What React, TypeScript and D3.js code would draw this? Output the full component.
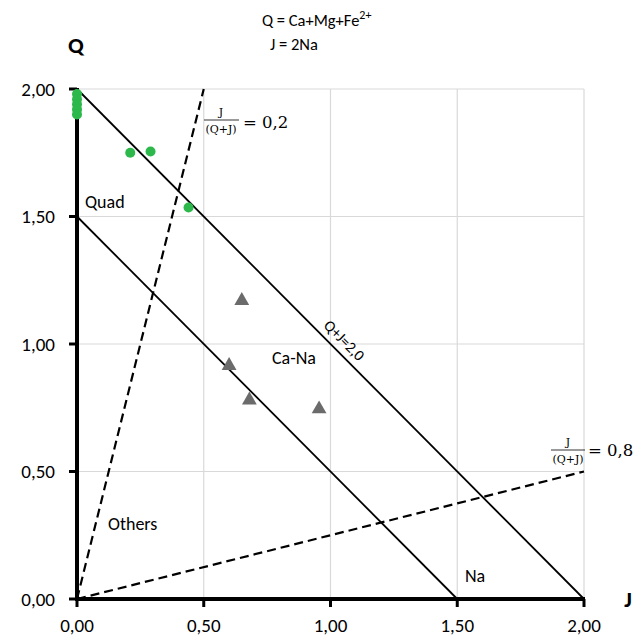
import React from "react";
import * as d3 from "d3";

const ticks = [0, 0.5, 1, 1.5, 2];
const tickLabels = ["0,00", "0,50", "1,00", "1,50", "2,00"];

// green circles (J, Q)
const quadJ = [0, 0, 0, 0, 0, 0.21, 0.29, 0.44];
const quadQ = [1.98, 1.96, 1.94, 1.92, 1.9, 1.75, 1.755, 1.535];

// grey triangles (J, Q)
const caNaJ = [0.65, 0.6, 0.68, 0.955];
const caNaQ = [1.17, 0.915, 0.78, 0.745];

// boundary lines [J1, Q1, J2, Q2]
const solidLines = [
  [0, 2, 2, 0],
  [0, 1.5, 1.5, 0],
];
const dashedLines = [
  [0, 0, 0.5, 2],
  [0, 0, 2, 0.5],
];

const W = 634;
const H = 641;

export default function App() {
  const x = d3.scaleLinear().domain([0, 2]).range([77, 584]);
  const y = d3.scaleLinear().domain([0, 2]).range([599, 89]);
  const tri = d3.symbol().type(d3.symbolTriangle).size(95)();
  const font = "Calibri, Carlito, 'Open Sans', sans-serif";
  const mathFont = "'DejaVu Serif', 'Liberation Serif', serif";

  return (
    <svg width={W} height={H} style={{ position: "absolute", left: 0, top: 0, background: "#fff" }}>
      {/* grid */}
      {ticks.slice(1).map((t) => (
        <g key={"g" + t}>
          <line x1={x(t)} x2={x(t)} y1={y(0)} y2={y(2)} stroke="#d9d9d9" strokeWidth={1.2} />
          <line x1={x(0)} x2={x(2)} y1={y(t)} y2={y(t)} stroke="#d9d9d9" strokeWidth={1.2} />
        </g>
      ))}

      {/* boundary lines */}
      {solidLines.map((l, i) => (
        <line key={"s" + i} x1={x(l[0])} y1={y(l[1])} x2={x(l[2])} y2={y(l[3])} stroke="#000" strokeWidth={1.8} />
      ))}
      {dashedLines.map((l, i) => (
        <line key={"d" + i} x1={x(l[0])} y1={y(l[1])} x2={x(l[2])} y2={y(l[3])} stroke="#000" strokeWidth={2.2} strokeDasharray="9,5" />
      ))}

      {/* axes */}
      <line x1={x(0)} x2={x(0)} y1={y(0) + 2} y2={y(2) - 1} stroke="#000" strokeWidth={4} />
      <line x1={x(0) - 2} x2={x(2) + 1} y1={y(0)} y2={y(0)} stroke="#000" strokeWidth={4} />
      {ticks.map((t, i) => (
        <g key={"t" + t}>
          <line x1={x(t)} x2={x(t)} y1={y(0)} y2={y(0) + 8} stroke="#000" strokeWidth={3} />
          <line x1={x(0) - 8} x2={x(0)} y1={y(t)} y2={y(t)} stroke="#000" strokeWidth={3} />
          <text x={x(t)} y={y(0) + 33} textAnchor="middle" fontFamily={font} fontSize={19} fill="#000">
            {tickLabels[i]}
          </text>
          <text x={x(0) - 22} y={y(t)} dy="0.35em" textAnchor="end" fontFamily={font} fontSize={19} fill="#000">
            {tickLabels[i]}
          </text>
        </g>
      ))}

      {/* points */}
      {quadJ.map((j, i) => (
        <circle key={"c" + i} cx={x(j)} cy={y(quadQ[i])} r={5} fill="#2cb84a" />
      ))}
      {caNaJ.map((j, i) => (
        <path key={"tr" + i} d={tri} transform={`translate(${x(j)},${y(caNaQ[i])})`} fill="#6b6b6b" />
      ))}

      {/* axis titles */}
      <text x={x(0) - 1} y={53} textAnchor="middle" fontFamily={font} fontSize={23} fontWeight="bold">Q</text>
      <text x={628} y={y(0) + 8} textAnchor="middle" fontFamily={font} fontSize={23} fontWeight="bold">J</text>

      {/* definitions */}
      <text x={262} y={26} fontFamily={font} fontSize={16.5}>
        Q = Ca+Mg+Fe<tspan dy={-7} fontSize={12}>2+</tspan>
      </text>
      <text x={270} y={50} fontFamily={font} fontSize={16.5}>J = 2Na</text>

      {/* region labels */}
      <text x={85} y={208} fontFamily={font} fontSize={18}>Quad</text>
      <text x={272} y={364} fontFamily={font} fontSize={18}>Ca-Na</text>
      <text x={108} y={530} fontFamily={font} fontSize={18}>Others</text>
      <text x={465} y={582} fontFamily={font} fontSize={18}>Na</text>
      <text
        transform={`translate(${x(1.02) + 5},${y(0.98) - 5}) rotate(45)`}
        textAnchor="middle"
        fontFamily={font}
        fontSize={15.5}
      >
        Q+J=2,0
      </text>

      {/* ratio formulas */}
      <g fontFamily={mathFont} fill="#000">
        <text x={221} y={116} textAnchor="middle" fontSize={11}>J</text>
        <line x1={204} x2={239} y1={120} y2={120} stroke="#000" strokeWidth={0.8} />
        <text x={221} y={133} textAnchor="middle" fontSize={11}>(Q+J)</text>
        <text x={243} y={128} fontSize={16.5}>= 0,2</text>

        <text x={568} y={446} textAnchor="middle" fontSize={11}>J</text>
        <line x1={551} x2={585} y1={450} y2={450} stroke="#000" strokeWidth={0.8} />
        <text x={568} y={463} textAnchor="middle" fontSize={11}>(Q+J)</text>
        <text x={588} y={456} fontSize={16.5}>= 0,8</text>
      </g>
    </svg>
  );
}
